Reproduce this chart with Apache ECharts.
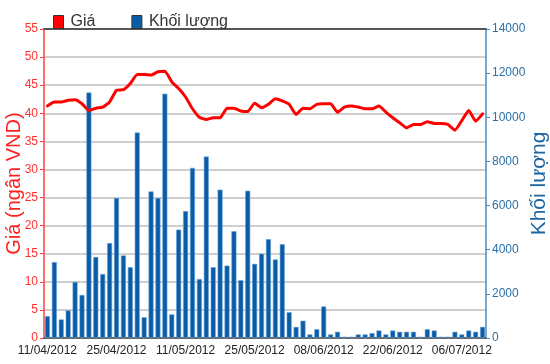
<!DOCTYPE html>
<html>
<head>
<meta charset="utf-8">
<script src="https://cdn.jsdelivr.net/npm/echarts@6/dist/echarts.min.js"></script>
<style>html,body{margin:0;padding:0;background:#fff}#c{width:550px;height:364px}</style>
</head>
<body>
<div id="c"></div>
<script>
var categories = ['11/04/2012','12/04/2012','13/04/2012','16/04/2012','17/04/2012','18/04/2012','19/04/2012','20/04/2012','23/04/2012','24/04/2012',
'25/04/2012','26/04/2012','27/04/2012','02/05/2012','03/05/2012','04/05/2012','07/05/2012','08/05/2012','09/05/2012','10/05/2012',
'11/05/2012','14/05/2012','15/05/2012','16/05/2012','17/05/2012','18/05/2012','21/05/2012','22/05/2012','23/05/2012','24/05/2012',
'25/05/2012','28/05/2012','29/05/2012','30/05/2012','31/05/2012','01/06/2012','04/06/2012','05/06/2012','06/06/2012','07/06/2012',
'08/06/2012','11/06/2012','12/06/2012','13/06/2012','14/06/2012','15/06/2012','18/06/2012','19/06/2012','20/06/2012','21/06/2012',
'22/06/2012','25/06/2012','26/06/2012','27/06/2012','28/06/2012','29/06/2012','02/07/2012','03/07/2012','04/07/2012','05/07/2012',
'06/07/2012','09/07/2012','10/07/2012','11/07/2012'];

var priceValues = [41.3,42.0,42.0,42.3,42.4,41.7,40.5,40.9,41.1,42.0,
44.1,44.2,45.3,46.9,46.9,46.8,47.4,47.5,45.6,44.4,
42.9,40.8,39.3,38.9,39.2,39.2,40.9,40.9,40.4,40.3,
41.8,41.0,41.6,42.6,42.2,41.6,39.8,40.9,40.8,41.6,
41.7,41.7,40.2,41.1,41.3,41.1,40.8,40.8,41.3,40.2,
39.2,38.3,37.4,38.0,38.0,38.5,38.2,38.2,38.0,37.0,
38.7,40.5,38.6,39.9];

var volumeValues = [990,3440,840,1250,2540,1950,11120,3670,2900,4300,
6340,3740,3210,9310,940,6640,6340,11070,1070,4910,
5750,7710,2670,8220,3210,6720,3280,4840,2620,6670,
3360,3820,4480,3560,4250,1170,504,785,163,400,
1430,163,281,60,60,163,163,222,340,163,
340,281,281,281,60,400,340,60,60,281,
163,340,281,504];

var priceTicks = [0,5,10,15,20,25,30,35,40,45,50,55];
var volumeTicks = [0,2000,4000,6000,8000,10000,12000,14000];

var chart = echarts.init(document.getElementById('c'), null, {renderer:'canvas'});
chart.setOption({
  animation: false,
  backgroundColor: '#ffffff',
  textStyle: {fontFamily: 'Liberation Sans, Arial, sans-serif'},
  legend: {
    left: 48, top: 9,
    itemWidth: 10, itemHeight: 13, itemGap: 36,
    icon: 'rect',
    itemStyle: {borderColor: '#333', borderWidth: 1},
    textStyle: {fontSize: 16, color: '#333', padding: [0,0,0,2]},
    data: ['Giá', 'Khối lượng']
  },
  grid: {left: 44, right: 64, top: 29, bottom: 26, containLabel: false, outerBoundsMode: 'none'},
  xAxis: [{
    type: 'category',
    data: categories,
    boundaryGap: true,
    z: 1,
    axisLine: {onZero: false, lineStyle: {color: '#444', width: 1.5}},
    axisTick: {alignWithLabel: true, interval: 9, length: 4, lineStyle: {color: '#444'}},
    axisLabel: {interval: 9, color: '#222', fontSize: 12, margin: 7},
    splitLine: {show: false}
  }, {
    type: 'category',
    data: categories,
    position: 'top',
    boundaryGap: true,
    z: 1,
    axisLine: {onZero: false, lineStyle: {color: '#555', width: 2}},
    axisTick: {show: false},
    axisLabel: {show: false},
    splitLine: {show: false}
  }],
  yAxis: [{
    type: 'value',
    position: 'left',
    min: priceTicks[0], max: priceTicks[priceTicks.length-1], interval: priceTicks[1]-priceTicks[0],
    name: 'Giá (ngân VND)',
    nameLocation: 'middle',
    nameGap: 20,
    nameMoveOverlap: false,
    nameTextStyle: {color: '#ff2020', fontSize: 20},
    z: 1,
    axisLine: {show: true, lineStyle: {color: '#ff4040', width: 1.5}},
    axisTick: {show: true, length: 4, lineStyle: {color: '#ff4040'}},
    axisLabel: {color: '#ff3030', fontSize: 12, margin: 6},
    splitLine: {show: true, lineStyle: {color: '#cfcfcf', width: 2}}
  }, {
    type: 'value',
    position: 'right',
    min: volumeTicks[0], max: volumeTicks[volumeTicks.length-1], interval: volumeTicks[1]-volumeTicks[0],
    name: 'Khối lượng',
    nameLocation: 'middle',
    nameGap: 43,
    nameMoveOverlap: false,
    nameTextStyle: {color: '#1f66a0', fontSize: 21},
    z: 1,
    axisLine: {show: true, lineStyle: {color: '#4a8bbf', width: 1.5}},
    axisTick: {show: true, length: 4, lineStyle: {color: '#4a8bbf'}},
    axisLabel: {color: '#2a70a8', fontSize: 12, margin: 6, formatter: function (v) { return String(v); }},
    splitLine: {show: false}
  }],
  series: [{
    name: 'Khối lượng',
    type: 'bar',
    xAxisIndex: 0,
    yAxisIndex: 1,
    data: volumeValues,
    barWidth: 5,
    itemStyle: {color: '#0a5ca6', borderColor: '#6aa3d6', borderWidth: 0.6},
    z: 2
  }, {
    name: 'Giá',
    type: 'line',
    xAxisIndex: 0,
    yAxisIndex: 0,
    data: priceValues,
    showSymbol: false,
    symbol: 'none',
    smooth: 0.15,
    itemStyle: {color: '#ff0000'},
    lineStyle: {color: '#ff0000', width: 3, join: 'round', cap: 'round'},
    z: 3
  }]
});
</script>
</body>
</html>
